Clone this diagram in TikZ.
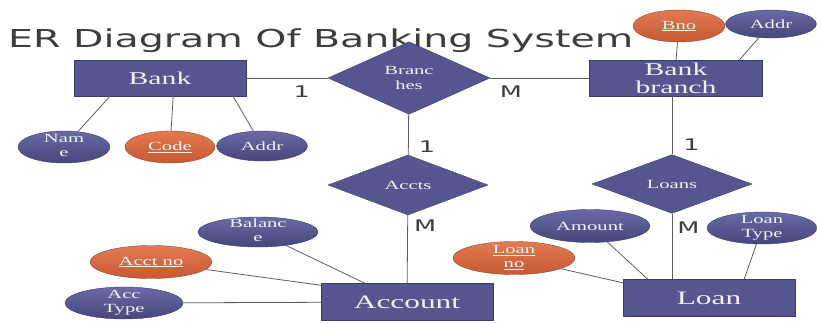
\documentclass[tikz,border=0pt]{standalone}
\usepackage{fontspec}
\setmainfont[FakeStretch=1.65]{Liberation Serif}
\newfontfamily\titlefont[FakeStretch=1.6]{DejaVu Sans}
\usepackage{tikz}
\usetikzlibrary{shapes.geometric}

\definecolor{entblue}{HTML}{55558F}
\definecolor{entedge}{HTML}{3C3C6C}
\definecolor{enttop}{HTML}{6A6AA6}
\definecolor{entbot}{HTML}{46467C}
\definecolor{keytop}{HTML}{E27A52}
\definecolor{keybot}{HTML}{C65A32}
\definecolor{keyedge}{HTML}{98452A}
\definecolor{linegray}{HTML}{5E5E5E}
\definecolor{titlegray}{HTML}{3D3D3D}
\definecolor{nodetext}{HTML}{F2F2F6}

% two lines of text that do not widen the ellipse
\newcommand{\twolines}[2]{\smash{\raisebox{-0.25em}{\begin{tabular}{@{}c@{}}#1\\#2\end{tabular}}}}

\begin{document}
\begin{tikzpicture}[x=1pt, y=-1pt,
        % Entities and relations
        entity/.style={rectangle, draw=entedge, fill=entblue, text=nodetext, minimum width=172pt, minimum height=36pt, inner sep=0pt, align=center, font=\fontsize{18}{19}\selectfont},
        relation/.style={diamond, draw=entedge, fill=entblue, text=nodetext, minimum width=160pt, minimum height=60pt, inner sep=0pt, align=center, font=\fontsize{12.5}{15}\selectfont},
        % Attributes
        attrib/.style={ellipse, draw=entedge, top color=enttop, bottom color=entbot, text=nodetext, minimum height=32pt, inner sep=0pt, font=\fontsize{12.5}{14}\selectfont},
        keyattr/.style={attrib, draw=keyedge, top color=keytop, bottom color=keybot},
        % Connectors and labels
        link/.style={draw=linegray, line width=0.8pt},
        card/.style={font=\titlefont\fontsize{16}{16}\selectfont, text=titlegray, inner sep=2pt}
    ]
    \useasboundingbox (0,0) rectangle (817,324);

    % Title
    \node[anchor=base west, inner sep=0pt, text=titlegray, font=\titlefont\fontsize{24.7}{26}\selectfont] (title) at (8,47) {ER Diagram Of Banking System};

    % Entities
    \node[entity] (bank) at (160,78) {Bank};
    \node[entity, minimum width=173pt, font=\fontsize{18}{18}\selectfont] (bbranch) at (676,78) {Bank\\branch};
    \node[entity, minimum height=37pt, font=\fontsize{19}{20}\selectfont] (account) at (407,302) {Account};
    \node[entity, minimum height=37pt, font=\fontsize{19}{20}\selectfont] (loan) at (709,298) {Loan};

    % Relations
    \node[relation, minimum width=162pt] (branches) at (409,78) {Branc\\hes};
    \node[relation] (accts) at (408,185) {Accts};
    \node[relation, minimum height=58pt] (loans) at (672,184) {Loans};

    % Attributes of Bank
    \node[attrib, minimum width=92pt] (name) at (64,147) {\twolines{Nam}{e}};
    \node[keyattr, minimum width=90pt] (code) at (170,147) {\underline{Code}};
    \node[attrib, minimum width=91pt, minimum height=30pt] (baddr) at (262,146) {Addr};

    % Attributes of Bank branch
    \node[keyattr, minimum width=92pt] (bno) at (679,26) {\underline{Bno}};
    \node[attrib, minimum width=91pt, minimum height=28pt] (braddr) at (771,24) {Addr};

    % Attributes of Account
    \node[attrib, minimum width=120pt, minimum height=30pt] (balance) at (258,232) {\twolines{Balanc}{e}};
    \node[keyattr, minimum width=122pt, minimum height=33pt] (acctno) at (151,262) {\underline{Acct no}};
    \node[attrib, minimum width=118pt] (acctype) at (124,303) {\twolines{Acc}{Type}};

    % Attributes of Loan
    \node[attrib, minimum width=120pt, minimum height=33pt] (amount) at (590,226) {Amount};
    \node[attrib, minimum width=110pt] (loantype) at (762,228) {\twolines{Loan}{Type}};
    \node[keyattr, minimum width=122pt, minimum height=33pt] (loanno) at (514,258) {\twolines{\underline{Loan}}{\underline{no}}};

    % Relationship lines with cardinalities
    \draw[link] (bank) -- node[card, pos=0.68, below=5pt] {1} (branches);
    \draw[link] (branches) -- node[card, pos=0.21, below=5pt] {M} (bbranch);
    \draw[link] (branches) -- node[card, pos=0.79, right=8pt] {1} (accts);
    \draw[link] (accts) -- node[card, pos=0.16, right=4pt] {M} (account);
    \draw[link] (loans.north |- bbranch.south) -- node[card, pos=0.83, right=9pt] {1} (loans);
    \draw[link] (loans) -- node[card, pos=0.21, right=3pt] {M} (loans.south |- loan.north);

    % Attribute lines
    \draw[link] (bank.200) -- (name);
    \draw[link] (bank.306) -- (code);
    \draw[link] (bank.346) -- (baddr);
    \draw[link] (bbranch.north) -- (bno);
    \draw[link] (bbranch.16) -- (braddr);
    \draw[link] (account.156) -- (balance);
    \draw[link] (account.169) -- (acctno);
    \draw[link] (account) -- (acctype);
    \draw[link] (loan.163) -- (amount);
    \draw[link] (loan.28) -- (loantype);
    \draw[link] (loan.170) -- (loanno);

\end{tikzpicture}
\end{document}
